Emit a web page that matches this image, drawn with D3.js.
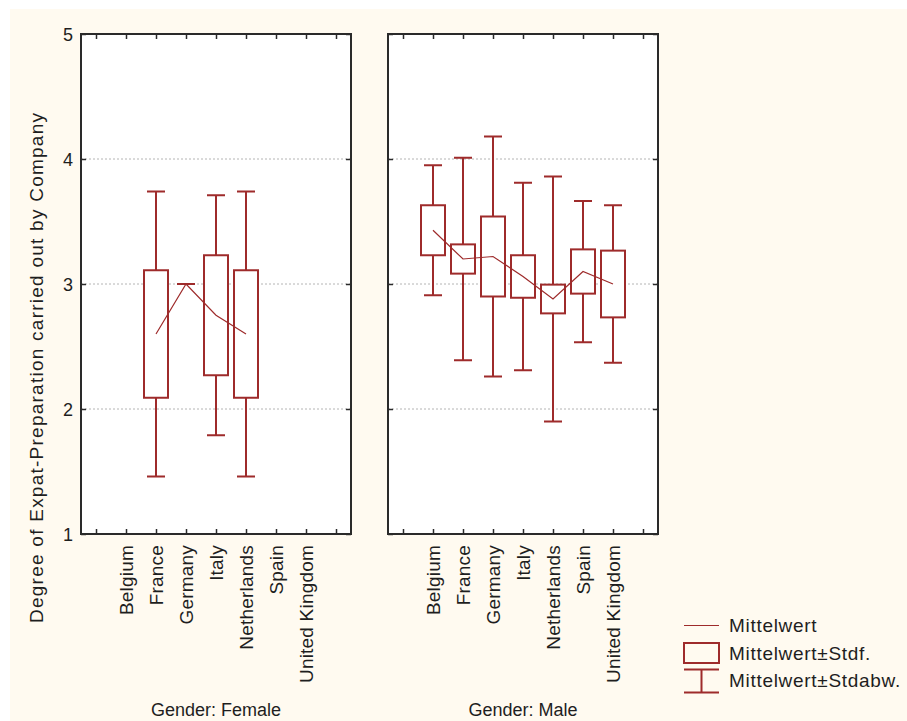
<!DOCTYPE html>
<html>
<head>
<meta charset="utf-8">
<script src="https://cdn.jsdelivr.net/npm/d3@7"></script>
<style>
  html, body { margin: 0; padding: 0; background: #fff; overflow: hidden; }
  svg { display: block; }
  text { font-family: "Liberation Sans", Arial, sans-serif; fill: #1e1e1e; }
</style>
</head>
<body>
<svg id="chart" width="907" height="721"></svg>
<script>
// Data
const countries = ["Belgium", "France", "Germany", "Italy", "Netherlands", "Spain", "United Kingdom"];
const yTicks = [1, 2, 3, 4, 5];

// Female: no values for Belgium, Spain, United Kingdom
const femaleMean = [null, 2.6, 3.0, 2.75, 2.6, null, null];
const femaleSe   = [null, 0.51, 0, 0.48, 0.51, null, null];
const femaleSd   = [null, 1.14, 0, 0.96, 1.14, null, null];

const maleMean = [3.43, 3.2, 3.22, 3.06, 2.88, 3.10, 3.0];
const maleSe   = [0.2, 0.117, 0.32, 0.17, 0.115, 0.177, 0.267];
const maleSd   = [0.52, 0.81, 0.96, 0.75, 0.98, 0.565, 0.63];

const panelTitles = ["Gender: Female", "Gender: Male"];
const legendLabels = ["Mittelwert", "Mittelwert\u00B1Stdf.", "Mittelwert\u00B1Stdabw."];
const yTitle = "Degree of Expat-Preparation carried out by Company";

// Layout
const RED = "#9e2b2b";
const FRAME = "#2a2a2a";
const panelW = 270;
const plotTop = 34, plotBottom = 534;
const panelX = [81, 388];
const boxHalf = 12, capHalf = 9;

const $svg = d3.select("#chart");

// cream background
$svg.append("rect")
    .attr("x", 10).attr("y", 9)
    .attr("width", 897).attr("height", 712)
    .attr("fill", "#fffaf0");

const slots = ["", ...countries, " "];
const x = d3.scalePoint().domain(slots).range([0, panelW]).padding(0.5);
const y = d3.scaleLinear().domain([1, 5]).range([plotBottom, plotTop]);

const panels = [
    { mean: femaleMean, se: femaleSe, sd: femaleSd },
    { mean: maleMean, se: maleSe, sd: maleSd },
];

panels.forEach((p, pi) => {
    const $g = $svg.append("g").attr("transform", `translate(${panelX[pi]},0)`);

    $g.append("rect")
        .attr("x", 0).attr("y", plotTop)
        .attr("width", panelW).attr("height", plotBottom - plotTop)
        .attr("fill", "#fff");

    // Grid
    $g.append("g").selectAll("line")
      .data([2, 3, 4])
      .join("line")
        .attr("x1", 0).attr("x2", panelW)
        .attr("y1", d => y(d)).attr("y2", d => y(d))
        .attr("stroke", "#b4b4b4")
        .attr("stroke-width", 1)
        .attr("stroke-dasharray", "2,2");

    // Axes (ticks pointing inward)
    const xBottom = d3.axisBottom(x).tickSizeInner(-5).tickSizeOuter(0).tickPadding(0);
    const xTop = d3.axisTop(x).tickSizeInner(-5).tickSizeOuter(0).tickFormat("");
    const yLeft = d3.axisLeft(y).tickValues(yTicks).tickFormat(d3.format("d"))
        .tickSizeInner(-5).tickSizeOuter(0).tickPadding(8);
    const yRight = d3.axisRight(y).tickValues(yTicks).tickSizeInner(-5).tickSizeOuter(0).tickFormat("");

    const $xb = $g.append("g").attr("transform", `translate(0,${plotBottom})`).call(xBottom);
    $xb.selectAll("text")
        .attr("y", 0).attr("x", -11)
        .attr("dy", "0.35em")
        .attr("transform", "rotate(-90)")
        .style("text-anchor", "end")
        .style("font-size", "19px")
        .style("letter-spacing", "0.2px");
    $g.append("g").attr("transform", `translate(0,${plotTop})`).call(xTop);
    const $yl = $g.append("g").call(yLeft);
    if (pi === 0) {
        $yl.selectAll("text").style("font-size", "18px").attr("dy", "0.35em");
    } else {
        $yl.selectAll("text").remove();
    }
    $g.append("g").attr("transform", `translate(${panelW},0)`).call(yRight);
    $g.selectAll(".domain").remove();
    $g.selectAll(".tick line").attr("stroke", FRAME).attr("stroke-width", 1.5);

    $g.append("rect")
        .attr("x", 0).attr("y", plotTop)
        .attr("width", panelW).attr("height", plotBottom - plotTop)
        .attr("fill", "none")
        .attr("stroke", FRAME)
        .attr("stroke-width", 2);

    const rows = countries
      .map((c, i) => ({ c, m: p.mean[i], se: p.se[i], sd: p.sd[i] }))
      .filter(d => d.m !== null);

    const $marks = $g.append("g")
        .attr("fill", "none")
        .attr("stroke", RED)
        .attr("stroke-width", 2);

    // whiskers
    $marks.selectAll(".whisker")
      .data(rows)
      .join("path")
        .attr("class", "whisker")
        .attr("d", d => {
            const cx = x(d.c), hi = y(d.m + d.sd), lo = y(d.m - d.sd);
            return `M${cx - capHalf},${hi}H${cx + capHalf}M${cx},${hi}V${lo}M${cx - capHalf},${lo}H${cx + capHalf}`;
        });

    // boxes
    $marks.selectAll(".box")
      .data(rows)
      .join("rect")
        .attr("class", "box")
        .attr("x", d => x(d.c) - boxHalf)
        .attr("y", d => y(d.m + d.se))
        .attr("width", boxHalf * 2)
        .attr("height", d => y(d.m - d.se) - y(d.m + d.se))
        .attr("fill", "#fff");

    // mean line
    $g.append("path")
        .datum(rows)
        .attr("fill", "none")
        .attr("stroke", RED)
        .attr("stroke-width", 1.2)
        .attr("d", d3.line().x(d => x(d.c)).y(d => y(d.m)));

    $g.append("text")
        .attr("x", panelW / 2)
        .attr("y", 716)
        .attr("text-anchor", "middle")
        .style("font-size", "18px")
        .text(panelTitles[pi]);
});

// Y title
$svg.append("text")
    .attr("transform", "translate(43,368) rotate(-90)")
    .attr("text-anchor", "middle")
    .attr("textLength", 510)
    .attr("lengthAdjust", "spacing")
    .style("font-size", "19px")
    .text(yTitle);

// Legend
const $leg = $svg.append("g").attr("stroke", RED).attr("stroke-width", 2).attr("fill", "none");
$leg.append("line").attr("x1", 684).attr("x2", 719).attr("y1", 625.5).attr("y2", 625.5).attr("stroke-width", 1.2);
$leg.append("rect").attr("x", 684).attr("y", 643).attr("width", 35).attr("height", 20);
$leg.append("path").attr("d", "M684,669.5H719M701.5,669.5V692.5M684,692.5H719");

$svg.append("g").selectAll("text")
  .data(legendLabels)
  .join("text")
    .attr("x", 729)
    .attr("y", (d, i) => [632, 660, 687][i])
    .style("font-size", "19px")
    .style("letter-spacing", "0.7px")
    .text(d => d);
</script>
</body>
</html>
